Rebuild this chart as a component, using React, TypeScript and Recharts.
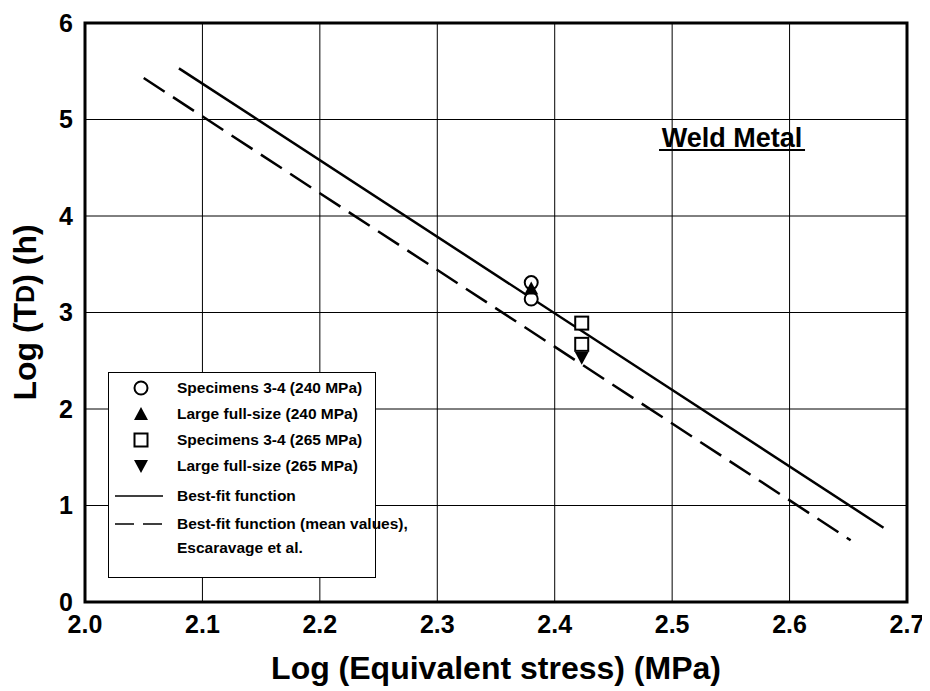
import {
  CartesianGrid,
  Legend,
  ReferenceArea,
  ReferenceDot,
  Scatter,
  ScatterChart,
  XAxis,
  YAxis,
} from "recharts";

const xTicks = [2.0, 2.1, 2.2, 2.3, 2.4, 2.5, 2.6, 2.7];
const yTicks = [0, 1, 2, 3, 4, 5, 6];

const specimens240 = [
  { x: 2.38, y: 3.31 },
  { x: 2.38, y: 3.14 },
];
const large240 = [{ x: 2.38, y: 3.25 }];
const specimens265 = [
  { x: 2.423, y: 2.89 },
  { x: 2.423, y: 2.67 },
];
const large265 = [{ x: 2.423, y: 2.53 }];

// fitted lines (end points)
const bestFit = [
  { x: 2.08, y: 5.53 },
  { x: 2.68, y: 0.77 },
];
const meanFit = [
  { x: 2.05, y: 5.43 },
  { x: 2.652, y: 0.64 },
];

const font = "'Liberation Sans', Arial, sans-serif";
const dash = "25 10";

const Circle = ({ cx, cy }: any) => <circle cx={cx} cy={cy} r={6.5} fill="#fff" stroke="#000" strokeWidth={2} />;
const Square = ({ cx, cy }: any) => (
  <rect x={cx - 6.5} y={cy - 6.5} width={13} height={13} fill="#fff" stroke="#000" strokeWidth={2} />
);
const TriUp = ({ cx, cy }: any) => <path d={`M${cx},${cy - 7}L${cx + 7},${cy + 6}L${cx - 7},${cy + 6}Z`} fill="#000" />;
const TriDown = ({ cx, cy }: any) => <path d={`M${cx},${cy + 7}L${cx + 7},${cy - 6}L${cx - 7},${cy - 6}Z`} fill="#000" />;
const NoDot = () => null;

function LegendBox() {
  const row = { display: "flex", alignItems: "center", height: 26 } as const;
  const icon = (c: any) => (
    <svg width={62} height={20} style={{ flex: "none" }}>
      {c}
    </svg>
  );
  return (
    <div
      style={{
        border: "1.5px solid #000",
        background: "#fff",
        width: 268,
        height: 206,
        boxSizing: "border-box",
        padding: "2px 0 0 6px",
        fontFamily: font,
        fontWeight: 700,
        fontSize: 15.5,
        color: "#000",
        lineHeight: "24px",
        whiteSpace: "nowrap",
      }}
    >
      <div style={row}>
        {icon(<Circle cx={26} cy={10} />)}
        Specimens 3-4 (240 MPa)
      </div>
      <div style={row}>
        {icon(<TriUp cx={26} cy={10} />)}
        Large full-size (240 MPa)
      </div>
      <div style={row}>
        {icon(<Square cx={26} cy={10} />)}
        Specimens 3-4 (265 MPa)
      </div>
      <div style={row}>
        {icon(<TriDown cx={26} cy={10} />)}
        Large full-size (265 MPa)
      </div>
      <div style={{ ...row, height: 33 }}>
        {icon(<line x1={0} x2={48} y1={10} y2={10} stroke="#000" strokeWidth={1.5} />)}
        Best-fit function
      </div>
      <div style={{ display: "flex", alignItems: "flex-start" }}>
        <div style={{ paddingTop: 2 }}>
          {icon(<line x1={0} x2={48} y1={10} y2={10} stroke="#000" strokeWidth={1.5} strokeDasharray="19 9" />)}
        </div>
        <div>
          Best-fit function (mean values),
          <br />
          Escaravage et al.
        </div>
      </div>
    </div>
  );
}

function YTitle({ viewBox }: any) {
  const cx = viewBox.x + 10;
  const cy = viewBox.y + viewBox.height / 2;
  return (
    <text
      x={cx}
      y={cy}
      transform={`rotate(-90 ${cx} ${cy})`}
      textAnchor="middle"
      dominantBaseline="central"
      fontFamily={font}
      fontWeight={700}
      fontSize={32}
      fill="#000"
    >
      Log (T<tspan fontSize={25}>D</tspan>) (h)
    </text>
  );
}

function XTitle({ viewBox }: any) {
  return (
    <text
      x={viewBox.x + viewBox.width / 2}
      y={viewBox.y + 77}
      textAnchor="middle"
      fontFamily={font}
      fontWeight={700}
      fontSize={32}
      fill="#000"
    >
      Log (Equivalent stress) (MPa)
    </text>
  );
}

const WeldLabel = ({ cx, cy }: any) => (
  <g>
    <text x={cx} y={cy} textAnchor="middle" fontFamily={font} fontWeight={700} fontSize={27} fill="#000">
      Weld Metal
    </text>
    <line x1={cx - 73} x2={cx + 73} y1={cy + 3} y2={cy + 3} stroke="#000" strokeWidth={2} />
  </g>
);

export default function App() {
  const tickStyle = { fontFamily: font, fontWeight: 700, fontSize: 25, fill: "#000" };
  return (
    <div style={{ background: "#fff" }}>
      <ScatterChart width={922} height={683} margin={{ top: 15, right: 23, left: 7, bottom: 29 }}>
        <CartesianGrid stroke="#000" strokeWidth={1} />
        <XAxis
          type="number"
          dataKey="x"
          domain={[2.0, 2.7]}
          ticks={xTicks}
          tickFormatter={(v: number) => v.toFixed(1)}
          axisLine={false}
          tickLine={false}
          tickSize={0}
          tickMargin={13}
          height={60}
          tick={tickStyle}
          label={{ content: XTitle }}
          allowDataOverflow
        />
        <YAxis
          type="number"
          dataKey="y"
          domain={[0, 6]}
          ticks={yTicks}
          axisLine={false}
          tickLine={false}
          tickSize={0}
          tickMargin={12}
          width={70}
          tick={tickStyle}
          label={{ content: YTitle }}
          allowDataOverflow
        />
        <ReferenceArea x1={2.0} x2={2.7} y1={0} y2={6} fill="none" stroke="#000" strokeWidth={3} ifOverflow="visible" />
        <Scatter data={bestFit} line={{ stroke: "#000", strokeWidth: 2.5 }} shape={NoDot} isAnimationActive={false} />
        <Scatter
          data={meanFit}
          line={{ stroke: "#000", strokeWidth: 2.5, strokeDasharray: dash }}
          shape={NoDot}
          isAnimationActive={false}
        />
        <Scatter data={specimens240} shape={Circle} isAnimationActive={false} />
        <Scatter data={large240} shape={TriUp} isAnimationActive={false} />
        <Scatter data={specimens265} shape={Square} isAnimationActive={false} />
        <Scatter data={large265} shape={TriDown} isAnimationActive={false} />
        <ReferenceDot x={2.551} y={4.715} r={0} shape={WeldLabel} ifOverflow="visible" />
        <Legend
          layout="horizontal"
          verticalAlign="middle"
          align="center"
          content={() => <LegendBox />}
          wrapperStyle={{ left: 100, top: 364, width: 268, height: 206 }}
        />
      </ScatterChart>
    </div>
  );
}
